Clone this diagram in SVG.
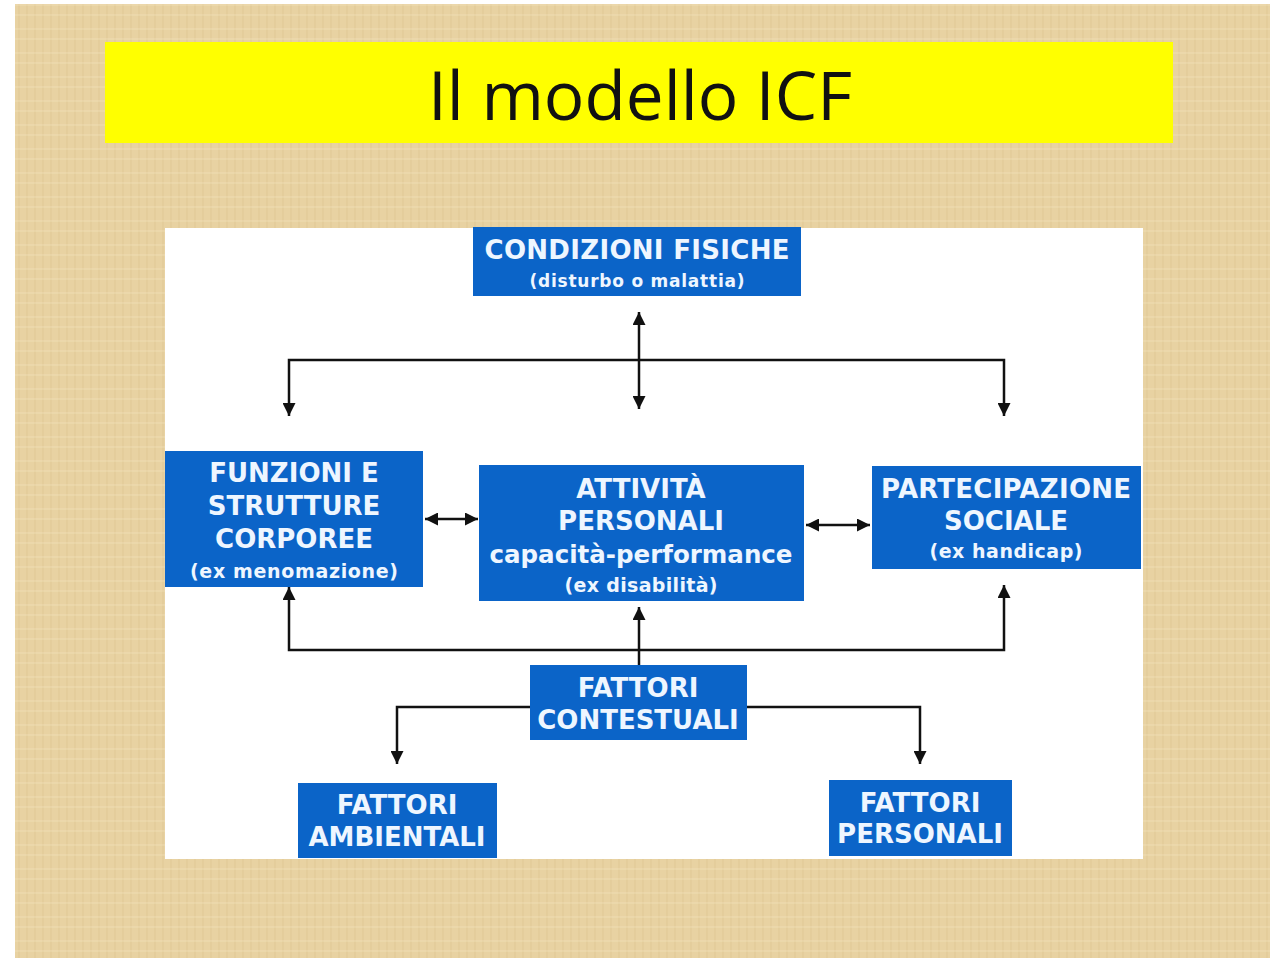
<svg xmlns="http://www.w3.org/2000/svg" width="1270" height="958" viewBox="0 0 1270 958">
<style>
.box{fill:#0B64C8;}
.t{font-family:"DejaVu Sans",Verdana,sans-serif;font-weight:bold;fill:#EEF6FF;text-anchor:middle;}
.big{font-size:26px;}
.sm{font-size:19px;}
.mid{font-size:24px;}
.ln{fill:none;stroke:#111;stroke-width:2.5;}
</style>
<defs>
<marker id="ah" viewBox="0 0 10 10" refX="10" refY="5" markerWidth="13" markerHeight="13" markerUnits="userSpaceOnUse" orient="auto-start-reverse">
<path d="M0,0 L10,5 L0,10 z" fill="#111"/>
</marker>
<pattern id="tex" width="24" height="24" patternUnits="userSpaceOnUse">
<rect width="24" height="24" fill="#E8D2A2"/>
<path d="M3,0 V24 M11,0 V24 M19,0 V24" stroke="#D6BC85" stroke-width="1" opacity="0.45"/>
<path d="M0,5 H24 M0,15 H24" stroke="#F3E3BC" stroke-width="1" opacity="0.6"/>
</pattern>
</defs>
<rect width="1270" height="958" fill="#FFFFFF"/>
<rect x="15" y="4" width="1255" height="954" fill="url(#tex)"/>
<g id="title">
<rect x="105" y="42" width="1068" height="101" fill="#FFFF00"/>
<text x="640" y="120" font-family="'Open Sans','Noto Sans',sans-serif" font-size="68" text-anchor="middle" fill="#111" textLength="424" lengthAdjust="spacingAndGlyphs">Il modello ICF</text>
</g>
<rect id="panel" x="165" y="228" width="978" height="631" fill="#FFFFFF"/>
<g id="connectors">
<line class="ln" x1="639" y1="312" x2="639" y2="409" marker-start="url(#ah)" marker-end="url(#ah)"/>
<path class="ln" d="M289,416 V360 H1004 V416" marker-start="url(#ah)" marker-end="url(#ah)"/>
<line class="ln" x1="425" y1="519" x2="478" y2="519" marker-start="url(#ah)" marker-end="url(#ah)"/>
<line class="ln" x1="806" y1="525" x2="870" y2="525" marker-start="url(#ah)" marker-end="url(#ah)"/>
<path class="ln" d="M289,587 V650 H1004 V585" marker-start="url(#ah)" marker-end="url(#ah)"/>
<line class="ln" x1="639" y1="665" x2="639" y2="607" marker-end="url(#ah)"/>
<path class="ln" d="M530,707 H397 V764" marker-end="url(#ah)"/>
<path class="ln" d="M747,707 H920 V764" marker-end="url(#ah)"/>
</g>
<g id="condizioni">
<rect class="box" x="473" y="227" width="328" height="69"/>
<text class="t big" x="637" y="259" textLength="305">CONDIZIONI FISICHE</text>
<text class="t" x="637" y="287" font-size="17" textLength="215">(disturbo o malattia)</text>
</g>
<g id="funzioni">
<rect class="box" x="165" y="451" width="258" height="136"/>
<text class="t big" x="294" y="482">FUNZIONI E</text>
<text class="t big" x="294" y="515">STRUTTURE</text>
<text class="t big" x="294" y="548">CORPOREE</text>
<text class="t sm" x="294" y="578" textLength="208">(ex menomazione)</text>
</g>
<g id="attivita">
<rect class="box" x="479" y="465" width="325" height="136"/>
<text class="t big" x="641" y="498">ATTIVITÀ</text>
<text class="t big" x="641" y="530">PERSONALI</text>
<text class="t mid" x="641" y="563" textLength="303" lengthAdjust="spacingAndGlyphs">capacità-performance</text>
<text class="t sm" x="641" y="592" textLength="153">(ex disabilità)</text>
</g>
<g id="partecipazione">
<rect class="box" x="872" y="466" width="269" height="103"/>
<text class="t big" x="1006" y="498" textLength="250">PARTECIPAZIONE</text>
<text class="t big" x="1006" y="530">SOCIALE</text>
<text class="t sm" x="1006" y="558" textLength="153">(ex handicap)</text>
</g>
<g id="contestuali">
<rect class="box" x="530" y="665" width="217" height="75"/>
<text class="t big" x="638" y="697">FATTORI</text>
<text class="t big" x="638" y="729">CONTESTUALI</text>
</g>
<g id="ambientali">
<rect class="box" x="298" y="783" width="199" height="75"/>
<text class="t big" x="397" y="814">FATTORI</text>
<text class="t big" x="397" y="846">AMBIENTALI</text>
</g>
<g id="personali">
<rect class="box" x="829" y="780" width="183" height="76"/>
<text class="t big" x="920" y="812">FATTORI</text>
<text class="t big" x="920" y="843">PERSONALI</text>
</g>
</svg>
